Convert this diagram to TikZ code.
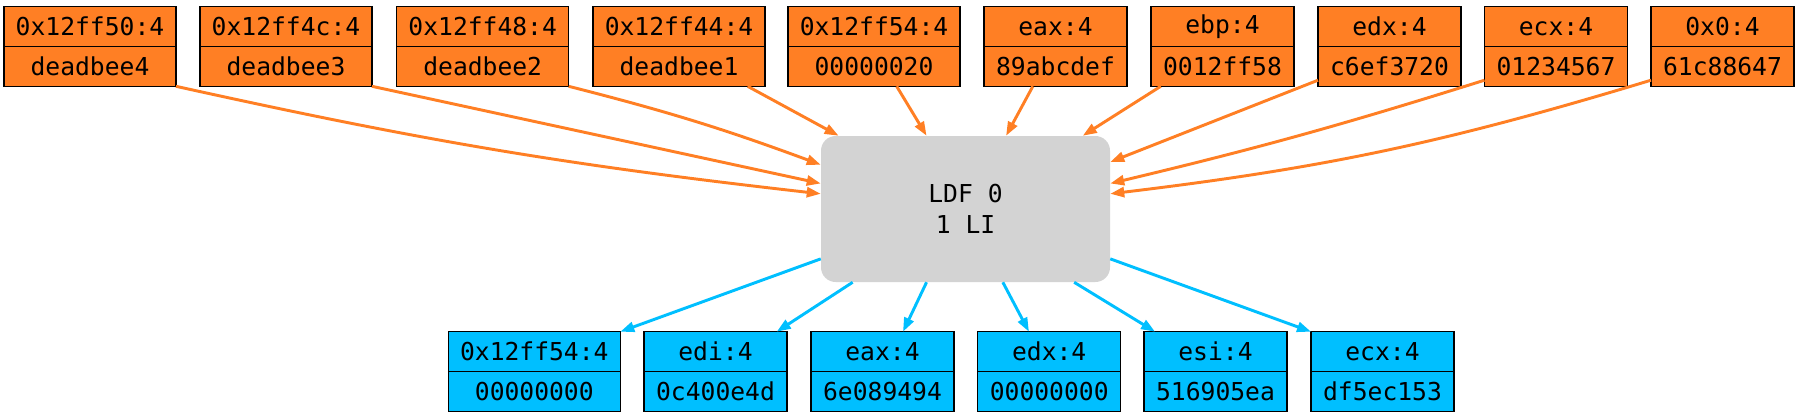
\documentclass[tikz,border=0pt]{standalone}
\usepackage{fontspec}
\usepackage{xcolor}
\usepackage{tikz}
\usetikzlibrary{positioning,arrows.meta}
\newfontfamily\recfont{DejaVu Sans Mono}
\definecolor{recorange}{RGB}{255,127,36}
\definecolor{recblue}{RGB}{0,191,255}
\definecolor{ldfgray}{RGB}{211,211,211}
\tikzset{
  cell/.style={draw=black, line width=1pt, inner sep=0pt, outer sep=0pt, minimum height=30pt, font=\recfont\fontsize{18.5}{22}\selectfont},
  incell/.style={cell, fill=recorange},
  outcell/.style={cell, fill=recblue},
  wide/.style={minimum width=129pt},
  narrow/.style={minimum width=107.25pt},
  ldfbox/.style={fill=ldfgray, rounded corners=11pt, inner sep=0pt, minimum width=216.75pt, minimum height=109.5pt, align=center, font=\recfont\fontsize{18.5}{23}\selectfont},
  inedge/.style={draw=recorange, line width=2.2pt, -{Triangle[length=10.5pt,width=7.5pt]}},
  outedge/.style={draw=recblue, line width=2.2pt, -{Triangle[length=10.5pt,width=7.5pt]}}
}

\begin{document}
\begin{tikzpicture}[x=0.75pt,y=0.75pt,yscale=-1,xscale=1]
\useasboundingbox (0,0) rectangle (1799,419);

%Shape: Rounded Rect [id:ldf]
\node[ldfbox] (ldf) at (965.5,209) {LDF 0\\1 LI};

%Records: inputs
\node[incell, wide] (t1) at (90,26.3) {0x12ff50:4};
\node[incell, wide, below=0pt of t1] (t1v) {deadbee4};
\node[incell, wide] (t2) at (286,26.3) {0x12ff4c:4};
\node[incell, wide, below=0pt of t2] (t2v) {deadbee3};
\node[incell, wide] (t3) at (482.7,26.3) {0x12ff48:4};
\node[incell, wide, below=0pt of t3] (t3v) {deadbee2};
\node[incell, wide] (t4) at (679,26.3) {0x12ff44:4};
\node[incell, wide, below=0pt of t4] (t4v) {deadbee1};
\node[incell, wide] (t5) at (874,26.3) {0x12ff54:4};
\node[incell, wide, below=0pt of t5] (t5v) {00000020};
\node[incell, narrow] (t6) at (1055.5,26.3) {eax:4};
\node[incell, narrow, below=0pt of t6] (t6v) {89abcdef};
\node[incell, narrow] (t7) at (1222.5,26.3) {ebp:4};
\node[incell, narrow, below=0pt of t7] (t7v) {0012ff58};
\node[incell, narrow] (t8) at (1389.5,26.3) {edx:4};
\node[incell, narrow, below=0pt of t8] (t8v) {c6ef3720};
\node[incell, narrow] (t9) at (1556,26.3) {ecx:4};
\node[incell, narrow, below=0pt of t9] (t9v) {01234567};
\node[incell, narrow] (t10) at (1722.5,26.3) {0x0:4};
\node[incell, narrow, below=0pt of t10] (t10v) {61c88647};

%Records: outputs
\node[outcell, wide] (b1) at (534.3,351.7) {0x12ff54:4};
\node[outcell, wide, below=0pt of b1] (b1v) {00000000};
\node[outcell, narrow] (b2) at (715.5,351.7) {edi:4};
\node[outcell, narrow, below=0pt of b2] (b2v) {0c400e4d};
\node[outcell, narrow] (b3) at (882.5,351.7) {eax:4};
\node[outcell, narrow, below=0pt of b3] (b3v) {6e089494};
\node[outcell, narrow] (b4) at (1049.2,351.7) {edx:4};
\node[outcell, narrow, below=0pt of b4] (b4v) {00000000};
\node[outcell, narrow] (b5) at (1215.5,351.7) {esi:4};
\node[outcell, narrow, below=0pt of b5] (b5v) {516905ea};
\node[outcell, narrow] (b6) at (1382.5,351.7) {ecx:4};
\node[outcell, narrow, below=0pt of b6] (b6v) {df5ec153};

%Lines: into LDF
\draw[inedge] (t1v.south east) to[bend left=3] (ldf.174.4);
\draw[inedge] (t2v.south east) -- (ldf.170.5);
\draw[inedge] (t3v.south east) to[bend right=3] (ldf.163.6);
\draw[inedge] ([xshift=-13pt]t4v.south east) -- (ldf.150.2);
\draw[inedge] ([xshift=17pt]t5v.south) -- (ldf.118.8);
\draw[inedge] ([xshift=-17pt]t6v.south) -- (ldf.61.3);
\draw[inedge] ([xshift=7.3pt]t7v.south west) -- (ldf.32.5);
\draw[inedge] (t8v.191.8) -- (ldf.18.7);
\draw[inedge] (t9v.191.8) to[bend right=2] (ldf.10.7);
\draw[inedge] (t10v.191.8) to[bend right=5] (ldf.6.8);

%Lines: out of LDF
\draw[outedge] (ldf.199.4) -- (b1.north east);
\draw[outedge] (ldf.213.3) -- ([xshift=-7.7pt]b2.north east);
\draw[outedge] (ldf.242.9) -- ([xshift=15.4pt]b3.north);
\draw[outedge] (ldf.297.1) -- ([xshift=-15.2pt]b4.north);
\draw[outedge] (ldf.326.8) -- ([xshift=8.3pt]b5.north west);
\draw[outedge] (ldf.341.2) -- (b6.north west);

\end{tikzpicture}
\end{document}
